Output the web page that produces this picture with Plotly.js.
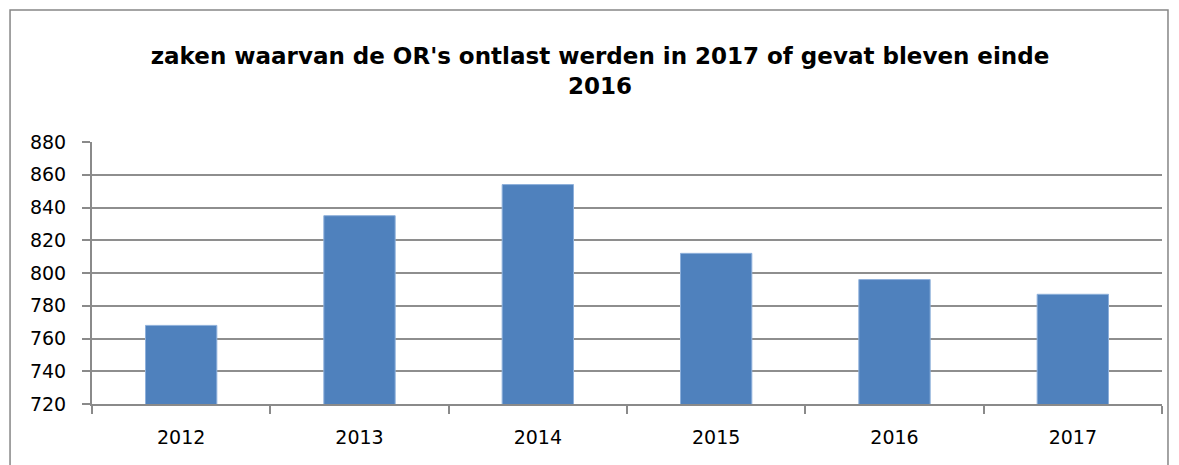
<!DOCTYPE html>
<html>
<head>
<meta charset="utf-8">
<script src="https://cdn.plot.ly/plotly-3.0.1.min.js"></script>
<style>html,body{margin:0;padding:0;background:#fff;}#chart{width:1179px;height:465px;}</style>
</head>
<body>
<div id="chart"></div>
<script>
const categories = ["2012", "2013", "2014", "2015", "2016", "2017"];
const values = [768, 835, 854, 812, 796, 787];
const titleText = "zaken waarvan de OR's ontlast werden in 2017 of gevat bleven einde<br>2016";
const yTicks = [720, 740, 760, 780, 800, 820, 840, 860, 880];

const trace = {
  type: "bar",
  x: categories,
  y: values,
  marker: {color: "#4F81BD", line: {color: "#8EB0DB", width: 1}},
  hoverinfo: "x+y"
};

const layout = {
  width: 1179,
  height: 465,
  paper_bgcolor: "#ffffff",
  plot_bgcolor: "#ffffff",
  margin: {l: 92, r: 17, t: 142, b: 61},
  showlegend: false,
  bargap: 0.6,
  title: {
    text: titleText,
    font: {family: "DejaVu Sans", size: 23, color: "#000000", weight: "bold"},
    x: 600 / 1179, xref: "container", xanchor: "center",
    y: 1 - 64 / 465, yref: "container", yanchor: "middle"
  },
  xaxis: {
    type: "category",
    showline: true, linecolor: "#8a8a8a", linewidth: 2,
    ticks: "outside", tickson: "boundaries", ticklen: 8, tickcolor: "#8a8a8a", tickwidth: 2,
    tickfont: {family: "DejaVu Sans", size: 19, color: "#000000"},
    ticklabelstandoff: 15,
    showgrid: false, zeroline: false
  },
  yaxis: {
    range: [720, 880],
    tickvals: yTicks,
    showline: true, linecolor: "#8a8a8a", linewidth: 2,
    ticks: "outside", ticklen: 8, tickcolor: "#8a8a8a", tickwidth: 2,
    tickfont: {family: "DejaVu Sans", size: 19, color: "#000000"},
    ticklabelstandoff: 12,
    showgrid: true, gridcolor: "#8e8e8e", gridwidth: 2,
    zeroline: false
  },
  shapes: [{
    type: "rect", xref: "paper", yref: "paper",
    x0: -0.0766, x1: 1.0056, y0: -0.4, y1: 1.5038,
    line: {color: "#868686", width: 1.5}, fillcolor: "rgba(0,0,0,0)", layer: "below"
  }]
};

Plotly.newPlot("chart", [trace], layout, {displayModeBar: false, staticPlot: true});
</script>
</body>
</html>
